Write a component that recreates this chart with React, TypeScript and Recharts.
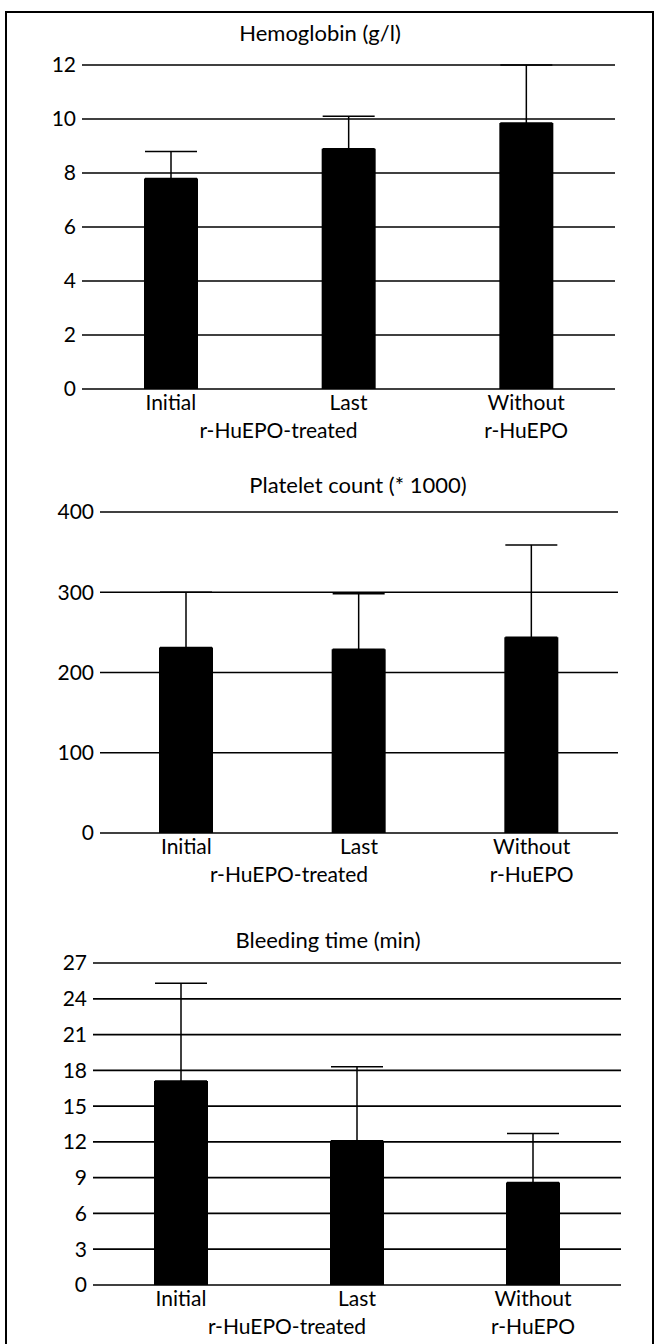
import { Bar, BarChart, CartesianGrid, ErrorBar, XAxis, YAxis } from "recharts";

const CATEGORIES = ["Initial", "Last", "Without"];
const SECOND_LINE = ["", "r-HuEPO-treated", "r-HuEPO"];

const HEMOGLOBIN = [7.8, 8.9, 9.85];
const HEMOGLOBIN_SD = [1.0, 1.2, 2.15];
const HEMOGLOBIN_TICKS = [0, 2, 4, 6, 8, 10, 12];

const PLATELETS = [231, 229, 244];
const PLATELETS_SD = [69, 69, 115];
const PLATELET_TICKS = [0, 100, 200, 300, 400];

const BLEEDING = [17.1, 12.1, 8.6];
const BLEEDING_SD = [8.2, 6.2, 4.1];
const BLEEDING_TICKS = [0, 3, 6, 9, 12, 15, 18, 21, 24, 27];

const FONT = "Lato, 'Open Sans', sans-serif";
const Y_AXIS_WIDTH = 60;
const X_AXIS_HEIGHT = 60;

// the second line of "Last" is shifted left so it sits between the first two bars
const SECOND_LINE_SHIFT = [0, -70, 0];

function CategoryTick(props: any) {
  const { x, y, payload } = props;
  const i = CATEGORIES.indexOf(payload.value);
  return (
    <g>
      <text x={x} y={y + 21} textAnchor="middle" fontSize={21} fontFamily={FONT} fill="#000">
        {payload.value}
      </text>
      {SECOND_LINE[i] && (
        <text
          x={x + SECOND_LINE_SHIFT[i]}
          y={y + 49}
          textAnchor="middle"
          fontSize={21}
          fontFamily={FONT}
          fill="#000"
        >
          {SECOND_LINE[i]}
        </text>
      )}
    </g>
  );
}

type PanelProps = {
  title: string;
  titleX: number;
  titleY: number;
  top: number;
  height: number;
  plot: { left: number; right: number; top: number; bottom: number };
  values: number[];
  spread: number[];
  ticks: number[];
};

function Panel({ title, titleX, titleY, top, height, plot, values, spread, ticks }: PanelProps) {
  const rows = CATEGORIES.map((name, i) => ({ name, value: values[i], err: [0, spread[i]] }));
  return (
    <div style={{ position: "absolute", left: 0, top, width: 656, height }}>
      <BarChart
        width={656}
        height={height}
        data={rows}
        barSize={54}
        margin={{
          top: plot.top - top,
          left: plot.left - Y_AXIS_WIDTH,
          right: 656 - plot.right,
          bottom: height - (plot.bottom - top) - X_AXIS_HEIGHT,
        }}
      >
        <CartesianGrid vertical={false} stroke="#000" strokeWidth={1.7} />
        <XAxis
          dataKey="name"
          axisLine={false}
          tickLine={false}
          tickSize={0}
          tickMargin={0}
          height={X_AXIS_HEIGHT}
          interval={0}
          tick={<CategoryTick />}
        />
        <YAxis
          width={Y_AXIS_WIDTH}
          domain={[0, ticks[ticks.length - 1]]}
          ticks={ticks}
          interval={0}
          axisLine={false}
          tickLine={false}
          tickSize={0}
          tickMargin={6}
          tick={{ fill: "#000", fontSize: 21, fontFamily: FONT }}
        />
        <Bar dataKey="value" fill="#000" isAnimationActive={false}>
          <ErrorBar dataKey="err" direction="y" width={26} stroke="#000" strokeWidth={1.5} />
        </Bar>
      </BarChart>
      <div
        style={{
          position: "absolute",
          left: titleX - 200,
          top: titleY - top - 14,
          width: 400,
          textAlign: "center",
          fontFamily: FONT,
          fontSize: 22,
          lineHeight: "28px",
          color: "#000",
        }}
      >
        {title}
      </div>
    </div>
  );
}

export default function App() {
  return (
    <div
      style={{
        position: "absolute",
        left: 0,
        top: 0,
        width: 656,
        height: 1344,
        overflow: "hidden",
        background: "#fff",
      }}
    >
      <div
        style={{
          position: "absolute",
          left: 5,
          top: 11,
          width: 645,
          height: 1400,
          border: "2px solid #000",
        }}
      />
      <Panel
        title="Hemoglobin (g/l)"
        titleX={320}
        titleY={33}
        top={0}
        height={450}
        plot={{ left: 82, right: 615, top: 65, bottom: 389 }}
        values={HEMOGLOBIN}
        spread={HEMOGLOBIN_SD}
        ticks={HEMOGLOBIN_TICKS}
      />
      <Panel
        title="Platelet count (* 1000)"
        titleX={358}
        titleY={485}
        top={440}
        height={460}
        plot={{ left: 100, right: 618, top: 512, bottom: 833 }}
        values={PLATELETS}
        spread={PLATELETS_SD}
        ticks={PLATELET_TICKS}
      />
      <Panel
        title="Bleeding time (min)"
        titleX={328}
        titleY={940}
        top={900}
        height={444}
        plot={{ left: 93, right: 621, top: 963, bottom: 1285 }}
        values={BLEEDING}
        spread={BLEEDING_SD}
        ticks={BLEEDING_TICKS}
      />
    </div>
  );
}
